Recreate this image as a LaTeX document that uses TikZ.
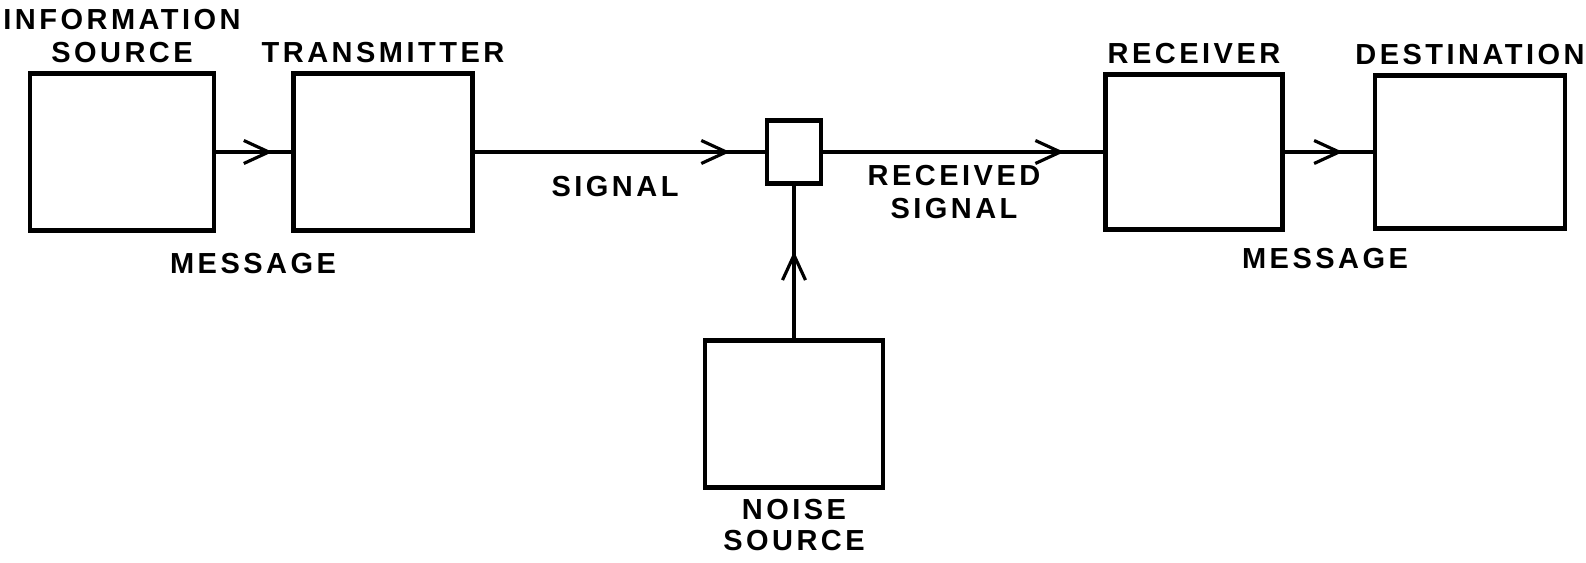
\documentclass[tikz,border=0pt]{standalone}
\usepackage{fontspec}
\newfontfamily\lettering[LetterSpace=12]{Liberation Sans}
\usetikzlibrary{arrows.meta, positioning, decorations.markings}
\tikzset{
	block/.style={rectangle, draw=black, line width=2.4pt, inner sep=0pt},
	lbl/.style={font=\lettering\bfseries\fontsize{16.5}{19}\selectfont, align=center, inner sep=1pt},
	wire/.style={line width=1.8pt, draw=black},
	midarrow/.style={wire, postaction={decorate}, decoration={markings, mark=at position #1 with {\arrow{Straight Barb[length=5mm, width=4.6mm]}}}},
}

\begin{document}
\begin{tikzpicture}[x=0.02cm, y=-0.02cm]
		\useasboundingbox (0,0) rectangle (1586,563);
		% blocks
		\node[block, minimum width=3.68cm, minimum height=3.14cm] (src) at (122,152) {};
		\node[block, minimum width=3.58cm, minimum height=3.14cm] (tx) at (383,152) {};
		\node[block, minimum width=1.08cm, minimum height=1.26cm] (mix) at (794,152) {};
		\node[block, minimum width=3.54cm, minimum height=3.10cm] (rx) at (1194,152) {};
		\node[block, minimum width=3.80cm, minimum height=3.06cm] (dst) at (1470,152) {};
		\node[block, minimum width=3.56cm, minimum height=2.94cm] (noise) at (794,414) {};
		% labels
		\node[lbl, above=0.13cm of src] (srclbl) {INFORMATION\\SOURCE};
		\node[lbl, above=0.13cm of tx] (txlbl) {TRANSMITTER};
		\node[lbl, above=0.13cm of rx] (rxlbl) {RECEIVER};
		\node[lbl, above=0.13cm of dst] (dstlbl) {DESTINATION};
		\node[lbl, below=0.16cm of noise, font=\lettering\bfseries\fontsize{16.5}{17.5}\selectfont] (noiselbl) {NOISE\\SOURCE};
		\node[lbl] (msg1) at (253,264) {MESSAGE};
		\node[lbl] (sig) at (615,187) {SIGNAL};
		\node[lbl] (rsig) at (954,192) {RECEIVED\\SIGNAL};
		\node[lbl] (msg2) at (1325,259) {MESSAGE};
		% connectors
		\draw[midarrow=0.75] (src) -- (tx);
		\draw[midarrow=0.88] (tx) -- (mix);
		\draw[midarrow=0.86] (mix) -- (rx);
		\draw[midarrow=0.66] (rx) -- (dst);
		\draw[midarrow=0.57] (noise) -- (mix);
	\end{tikzpicture}
\end{document}
